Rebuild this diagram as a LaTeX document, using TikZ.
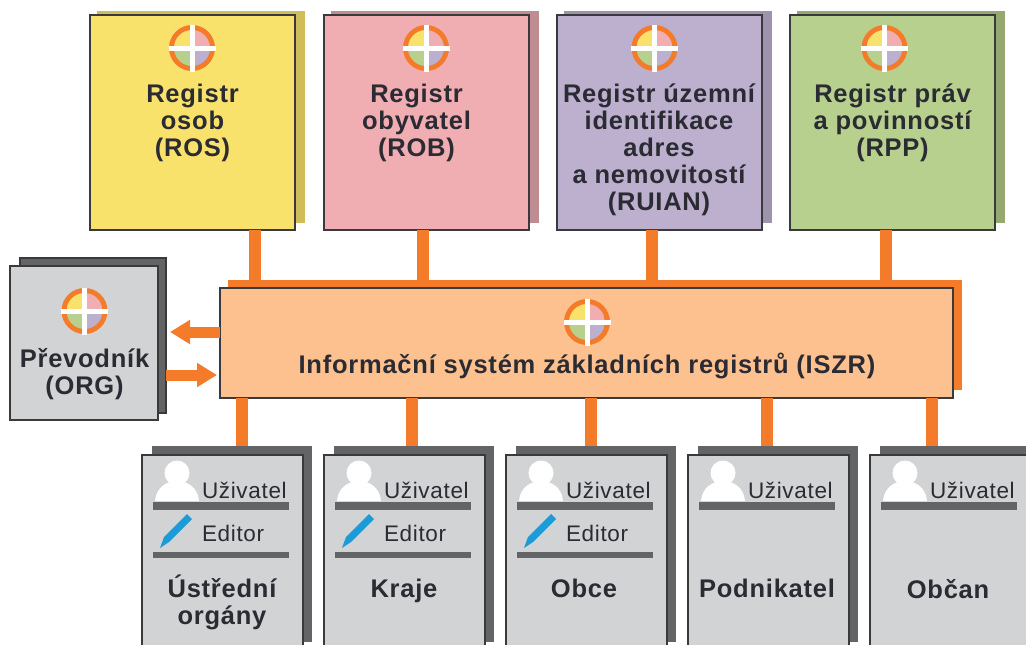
\documentclass[tikz,border=0pt]{standalone}
\usepackage{fontspec}
\setmainfont{Liberation Sans}[LetterSpace=3]
\usetikzlibrary{arrows.meta}
\definecolor{cyel}{HTML}{F9E26B}\definecolor{cyels}{HTML}{CFBD5A}
\definecolor{cpin}{HTML}{F0ADB2}\definecolor{cpins}{HTML}{BF8C91}
\definecolor{cpur}{HTML}{BDB0CE}\definecolor{cpurs}{HTML}{9D93AD}
\definecolor{cgre}{HTML}{B7D08E}\definecolor{cgres}{HTML}{94A870}
\definecolor{corg}{HTML}{F47B2A}\definecolor{cisz}{HTML}{FDC08F}
\definecolor{cgry}{HTML}{D1D3D4}\definecolor{cgrs}{HTML}{636466}
\definecolor{cbrd}{HTML}{3A3A3C}\definecolor{ctxt}{HTML}{2B2B33}
\definecolor{cpen}{HTML}{1B9BD7}
\tikzset{
  x=1pt,y=-1pt,
  box/.style={draw=cbrd,line width=1.6pt,inner sep=0pt,outer sep=0pt,anchor=north west},
  back/.style={inner sep=0pt,outer sep=0pt,anchor=north west},
  title/.style={inner sep=0pt,outer sep=0pt,anchor=north,align=center,text=ctxt,font=\fontsize{25.5}{27}\selectfont\bfseries},
  small/.style={inner sep=0pt,outer sep=0pt,anchor=base west,text=ctxt,font=\fontsize{22.5}{27}\selectfont},
  link/.style={draw=corg,line width=12.5pt},
  flow/.style={draw=corg,line width=11pt,-{Triangle[length=20pt,width=23pt]}},
}
% emblem: centre x, y
\newcommand\emblem[2]{%
  \fill[corg] (#1,#2) circle[radius=23];
  \begin{scope}
    \clip (#1,#2) circle[radius=18];
    \fill[cyel] (#1-18,#2-18) rectangle (#1,#2);
    \fill[cpin] (#1,#2-18) rectangle (#1+18,#2);
    \fill[cgre] (#1-18,#2) rectangle (#1,#2+18);
    \fill[cpur] (#1,#2) rectangle (#1+18,#2+18);
  \end{scope}
  \fill[white] (#1-23.5,#2-2.5) rectangle (#1+23.5,#2+2.5);
  \fill[white] (#1-2.5,#2-23.5) rectangle (#1+2.5,#2+23.5);
}
% register: name, x left, fill, shadow, emblem x
\newcommand\register[5]{%
  \node[back,fill=#4,minimum width=208pt,minimum height=212pt] (#1s) at (#2+7,11) {};
  \node[box,fill=#3,minimum width=205pt,minimum height=215pt] (#1) at (#2,15) {};
  \emblem{#5}{48}
}
% user box: name, x left
\newcommand\userbox[2]{%
  \node[back,fill=cgrs,minimum width=160pt,minimum height=196pt] (#1s) at (#2+10,446) {};
  \node[box,fill=cgry,minimum width=161pt,minimum height=210pt] (#1) at (#2,455) {};
  \fill[white] (#2+35,473) circle[radius=12.5];
  \fill[white] (#2+13,501) .. controls (#2+14,488) and (#2+24,481) .. (#2+35,481) .. controls (#2+46,481) and (#2+56,488) .. (#2+57,501) -- cycle;
  \node[small] (#1u) at (#2+60,498) {Uživatel};
  \fill[cgrs] (#2+11,502) rectangle (#2+147,510);
}
\newcommand\editor[2]{%
  \fill[cpen] (#2+18,548) -- (#2+22,537) -- (#2+45,514) -- (#2+50,519) -- (#2+27,542) -- cycle;
  \node[small] (#1e) at (#2+60,541) {Editor};
  \fill[cgrs] (#2+11,552) rectangle (#2+147,558);
}
\begin{document}
\begin{tikzpicture}
\clip (0,0) rectangle (1026,645);
\fill[white] (0,0) rectangle (1026,645);
% connector columns
\coordinate (t1) at (255,0);\coordinate (t2) at (423,0);\coordinate (t3) at (652,0);\coordinate (t4) at (886,0);
\coordinate (b1) at (242,0);\coordinate (b2) at (412,0);\coordinate (b3) at (591,0);\coordinate (b4) at (767,0);\coordinate (b5) at (932,0);
\coordinate (a1) at (0,332);\coordinate (a2) at (0,375);
% main system
\node[back,fill=corg,minimum width=734pt,minimum height=110pt] (bus) at (228,280) {};
\register{ros}{90}{cyel}{cyels}{192}
\register{rob}{324}{cpin}{cpins}{426}
\register{rui}{557}{cpur}{cpurs}{654.5}
\register{rpp}{790}{cgre}{cgres}{884.5}
\node[title] (tros) at (192.5,84) {Registr\\osob\\(ROS)};
\node[title] (trob) at (416.5,84) {Registr\\obyvatel\\(ROB)};
\node[title] (trui) at (659,84) {Registr územní\\identifikace\\adres\\a nemovitostí\\(RUIAN)};
\node[title] (trpp) at (892.5,84) {Registr práv\\a povinností\\(RPP)};
\userbox{uo}{142}\editor{uo}{142}
\userbox{kr}{324}\editor{kr}{324}
\userbox{ob}{506}\editor{ob}{506}
\userbox{po}{688}
\userbox{oc}{870}
\node[title] (tuo) at (222,575) {Ústřední\\orgány};
\node[title] (tkr) at (404,579) {Kraje};
\node[title] (tob) at (584,579) {Obce};
\node[title] (tpo) at (767,579) {Podnikatel};
\node[title] (toc) at (948,579) {Občan};
% links
\draw[link] (ros.south -| t1) -- (bus.north -| t1);
\draw[link] (rob.south -| t2) -- (bus.north -| t2);
\draw[link] (rui.south -| t3) -- (bus.north -| t3);
\draw[link] (rpp.south -| t4) -- (bus.north -| t4);
\node[box,fill=cisz,minimum width=733pt,minimum height=110pt] (iszr) at (220,288) {};
\emblem{587}{322}
\node[title,anchor=base] (tiszr) at (587,373) {Informační systém základních registrů (ISZR)};
\draw[link] (iszr.south -| b1) -- (uos.north -| b1);
\draw[link] (iszr.south -| b2) -- (krs.north -| b2);
\draw[link] (iszr.south -| b3) -- (obs.north -| b3);
\draw[link] (iszr.south -| b4) -- (pos.north -| b4);
\draw[link] (iszr.south -| b5) -- (ocs.north -| b5);
% converter
\node[box,fill=cgrs,minimum width=146pt,minimum height=155pt] (orgs) at (20,258) {};
\node[box,fill=cgry,minimum width=148pt,minimum height=154pt] (org) at (10,266) {};
\emblem{84.5}{311}
\node[title] (torg) at (84.5,348) {Převodník\\(ORG)};
\draw[flow,shorten >=4pt] (iszr.west |- a1) -- (orgs.east |- a1);
\draw[flow,shorten >=3pt] (orgs.east |- a2) -- (iszr.west |- a2);
\end{tikzpicture}
\end{document}
